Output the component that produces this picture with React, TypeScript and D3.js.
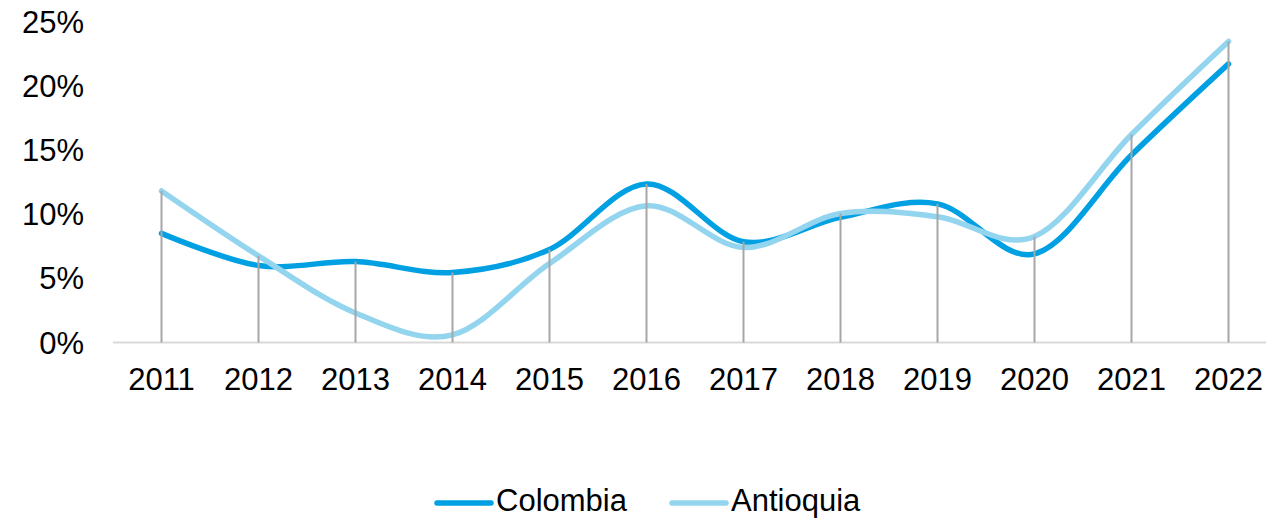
import React, { useEffect, useRef } from "react";
import * as d3 from "d3";

const years = ["2011", "2012", "2013", "2014", "2015", "2016", "2017", "2018", "2019", "2020", "2021", "2022"];
const colombia = [8.5, 6.0, 6.3, 5.45, 7.25, 12.35, 7.85, 9.75, 10.8, 6.9, 14.6, 21.7];
const antioquia = [11.8, 6.75, 2.3, 0.6, 6.15, 10.65, 7.4, 10.05, 9.8, 8.25, 16.2, 23.45];
const yTicks = [0, 5, 10, 15, 20, 25];

const seriesNames = ["Colombia", "Antioquia"];
const seriesColors = ["#00a0e3", "#93d4ee"];

function App() {
  const svgRef = useRef<SVGSVGElement>(null);

  useEffect(() => {
    const width = 1266;
    const height = 519;
    const svg = d3.select(svgRef.current).attr("width", width).attr("height", height);
    svg.selectAll("*").remove();

    const font = "'Liberation Sans', Arial, sans-serif";
    const fontSize = "31px";

    const x = d3.scaleBand().domain(years).range([113, 113 + 97 * 12]);
    const y = d3.scaleLinear().domain([0, 25]).range([342.5, 21.5]);
    const cx = (yr: string) => (x(yr) as number) + x.bandwidth() / 2;

    // y labels
    svg
      .append("g")
      .selectAll("text")
      .data(yTicks)
      .enter()
      .append("text")
      .attr("x", 84)
      .attr("y", (d) => y(d) + 11)
      .attr("text-anchor", "end")
      .style("font-family", font)
      .style("font-size", fontSize)
      .attr("fill", "#000")
      .text((d) => d + "%");

    // x axis line
    svg
      .append("line")
      .attr("x1", 113)
      .attr("x2", width)
      .attr("y1", y(0))
      .attr("y2", y(0))
      .attr("stroke", "#d9d9d9")
      .attr("stroke-width", 2);

    // x labels
    svg
      .append("g")
      .selectAll("text")
      .data(years)
      .enter()
      .append("text")
      .attr("x", (d) => cx(d))
      .attr("y", 390)
      .attr("text-anchor", "middle")
      .style("font-family", font)
      .style("font-size", fontSize)
      .attr("fill", "#000")
      .text((d) => d);

    const line = d3
      .line<number>()
      .x((_, i) => cx(years[i]))
      .y((d) => y(d))
      .curve(d3.curveCardinal.tension(0));

    [colombia, antioquia].forEach((vals, i) => {
      svg
        .append("path")
        .attr("d", line(vals))
        .attr("fill", "none")
        .attr("stroke", seriesColors[i])
        .attr("stroke-width", 5.5)
        .attr("stroke-linecap", "round");
    });

    // drop lines
    svg
      .append("g")
      .selectAll("line")
      .data(years)
      .enter()
      .append("line")
      .attr("x1", (d) => cx(d))
      .attr("x2", (d) => cx(d))
      .attr("y1", y(0))
      .attr("y2", (_, i) => y(Math.max(colombia[i], antioquia[i])))
      .attr("stroke", "#a6a6a6")
      .attr("stroke-width", 2);

    // legend
    const legendX = [437, 672];
    seriesNames.forEach((name, i) => {
      const g = svg.append("g").attr("transform", `translate(${legendX[i]}, 503)`);
      g.append("line")
        .attr("x1", 0)
        .attr("x2", 54)
        .attr("y1", 0)
        .attr("y2", 0)
        .attr("stroke", seriesColors[i])
        .attr("stroke-width", 5.5)
        .attr("stroke-linecap", "round");
      g.append("text")
        .attr("x", 59)
        .attr("y", 8)
        .style("font-family", font)
        .style("font-size", fontSize)
        .attr("fill", "#000")
        .text(name);
    });
  }, []);

  return (
    <div style={{ position: "absolute", left: 0, top: 0 }}>
      <svg ref={svgRef} style={{ display: "block" }}></svg>
    </div>
  );
}

export default App;
